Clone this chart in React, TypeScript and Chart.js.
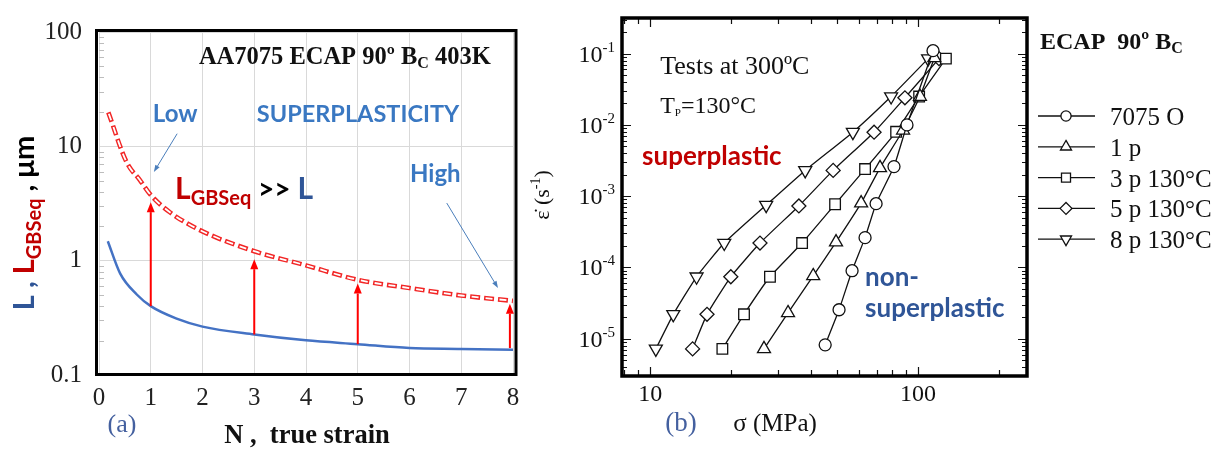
import React, { useEffect, useRef } from 'react';
import { Chart, registerables } from 'chart.js';

Chart.register(...registerables);

const SERIF = '"Liberation Serif", "Times New Roman", serif';
const SANS = 'Lato, "Open Sans", sans-serif';

// ---------------- Panel (a) data ----------------
const strainTicks = [0, 1, 2, 3, 4, 5, 6, 7, 8];
const sizeTicks = [0.1, 1, 10, 100];
const nL = [0.17, 0.41, 0.73, 1.0, 1.5, 2.0, 3.0, 4.0, 5.0, 6.0, 7.0, 8.0];
const sizeL = [1.48, 0.77, 0.506, 0.4, 0.311, 0.265, 0.226, 0.201, 0.186, 0.172, 0.169, 0.166];
const nGBS = [0.18, 0.535, 0.79, 1.0, 1.37, 1.95, 3.0, 4.0, 5.0, 6.0, 7.0, 8.0];
const sizeGBS = [19.8, 7.24, 5.07, 3.75, 2.65, 1.85, 1.21, 0.91, 0.68, 0.576, 0.496, 0.445];
const arrowN = [1, 3, 5, 7.94];
const arrowFrom = [0.4, 0.226, 0.186, 0.172];
const arrowTo = [3.25, 1.03, 0.63, 0.42];

// annotation anchors (N, size)
const titleAPos = [1.93, 52.7];
const lowPos = [1.04, 16.4];
const superplasticityPos = [3.05, 16.4];
const highPos = [6.01, 4.9];
const lgbsPos = [1.47, 3.44];
const lowArrow = [[1.51, 12.9], [1.06, 5.96]];
const highArrow = [[6.72, 3.19], [7.71, 0.576]];

// ---------------- Panel (b) data ----------------
const seriesLabels = ['7075 O', '1 p', '3 p 130°C', '5 p 130°C', '8 p 130°C'];
const stress7075 = [45.0, 50.7, 56.7, 63.4, 69.7, 81.3, 90.9, 113.7];
const rate7075 = [8.2e-6, 2.55e-5, 9.0e-5, 2.62e-4, 7.85e-4, 2.6e-3, 1.0e-2, 1.1e-1];
const stress1p = [26.6, 32.7, 40.6, 49.4, 61.3, 72.1, 87.9, 101.6, 115];
const rate1p = [7.2e-6, 2.3e-5, 7.6e-5, 2.27e-4, 8.0e-4, 2.5e-3, 8.4e-3, 2.5e-2, 8.7e-2];
const stress3p = [18.6, 22.4, 28.0, 36.9, 49.0, 63.4, 82.8, 100.9, 127];
const rate3p = [7.2e-6, 2.2e-5, 7.4e-5, 2.2e-4, 7.7e-4, 2.4e-3, 8.0e-3, 2.5e-2, 8.5e-2];
const stress5p = [14.4, 16.3, 20.0, 25.7, 35.9, 48.2, 68.5, 89.3, 119.7];
const rate5p = [7.2e-6, 2.2e-5, 7.4e-5, 2.2e-4, 7.3e-4, 2.3e-3, 7.9e-3, 2.4e-2, 8.5e-2];
const stress8p = [10.5, 12.2, 14.9, 18.9, 27.1, 37.9, 57.1, 79.3, 109];
const rate8p = [7.2e-6, 2.2e-5, 7.4e-5, 2.2e-4, 7.5e-4, 2.3e-3, 7.9e-3, 2.5e-2, 8.5e-2];
const rateTickExponents = [-1, -2, -3, -4, -5];
const stressTickLabels = [10, 100];

const testsPos = [10.9, 0.0525];
const tpPos = [10.9, 0.0145];
const superPos = [9.33, 2.7e-3];
const nonPos = [63.4, 5.5e-5];
const nonPos2 = [63.4, 2.03e-5];

type Part = { t: string; font: string; color: string; dy?: number };

function drawRich(ctx: CanvasRenderingContext2D, parts: Part[], x: number, y: number, align = 'left') {
  let total = 0;
  for (const p of parts) {
    ctx.font = p.font;
    total += ctx.measureText(p.t).width;
  }
  let cx = align === 'center' ? x - total / 2 : align === 'right' ? x - total : x;
  ctx.textAlign = 'left';
  ctx.textBaseline = 'alphabetic';
  for (const p of parts) {
    ctx.font = p.font;
    ctx.fillStyle = p.color;
    ctx.fillText(p.t, cx, y + (p.dy || 0));
    cx += ctx.measureText(p.t).width;
  }
}

function drawArrow(ctx: CanvasRenderingContext2D, x1: number, y1: number, x2: number, y2: number, color: string, width: number, headLen: number, headW: number) {
  const ang = Math.atan2(y2 - y1, x2 - x1);
  const bx = x2 - headLen * Math.cos(ang);
  const by = y2 - headLen * Math.sin(ang);
  ctx.save();
  ctx.strokeStyle = color;
  ctx.fillStyle = color;
  ctx.lineWidth = width;
  ctx.beginPath();
  ctx.moveTo(x1, y1);
  ctx.lineTo(bx, by);
  ctx.stroke();
  ctx.beginPath();
  ctx.moveTo(x2, y2);
  ctx.lineTo(bx + (headW / 2) * Math.sin(ang), by - (headW / 2) * Math.cos(ang));
  ctx.lineTo(bx - (headW / 2) * Math.sin(ang), by + (headW / 2) * Math.cos(ang));
  ctx.closePath();
  ctx.fill();
  ctx.restore();
}

function drawMarker(ctx: CanvasRenderingContext2D, style: string, x: number, y: number, r: number, rot: number) {
  ctx.save();
  ctx.fillStyle = '#fff';
  ctx.strokeStyle = '#111';
  ctx.lineWidth = 1.3;
  ctx.beginPath();
  if (style === 'circle') {
    ctx.arc(x, y, r, 0, Math.PI * 2);
  } else if (style === 'triangle') {
    let rad = (rot * Math.PI) / 180;
    ctx.moveTo(x + Math.sin(rad) * r, y - Math.cos(rad) * r);
    rad += (2 * Math.PI) / 3;
    ctx.lineTo(x + Math.sin(rad) * r, y - Math.cos(rad) * r);
    rad += (2 * Math.PI) / 3;
    ctx.lineTo(x + Math.sin(rad) * r, y - Math.cos(rad) * r);
    ctx.closePath();
  } else if (style === 'rect') {
    const s = r * Math.SQRT1_2;
    ctx.rect(x - s, y - s, 2 * s, 2 * s);
  } else if (style === 'rectRot') {
    ctx.moveTo(x - r, y);
    ctx.lineTo(x, y + r);
    ctx.lineTo(x + r, y);
    ctx.lineTo(x, y - r);
    ctx.closePath();
  }
  ctx.fill();
  ctx.stroke();
  ctx.restore();
}

const markerDefs = [
  { style: 'circle', r: 6, rot: 0 },
  { style: 'triangle', r: 7.5, rot: 0 },
  { style: 'rect', r: 7.5, rot: 0 },
  { style: 'rectRot', r: 7, rot: 0 },
  { style: 'triangle', r: 7.5, rot: 180 },
];

const panelAPlugin = {
  id: 'panelA',
  afterDatasetsDraw(chart: any) {
    const { ctx, chartArea: a } = chart;
    const x = chart.scales.x;
    const y = chart.scales.y;
    const px = (p: number[]) => [x.getPixelForValue(p[0]), y.getPixelForValue(p[1])];

    // red arrows
    arrowN.forEach((n, i) => {
      const xx = x.getPixelForValue(n);
      drawArrow(ctx, xx, y.getPixelForValue(arrowFrom[i]), xx, y.getPixelForValue(arrowTo[i]), '#ff0000', 2, 10, 8);
    });

    // minor y ticks inside
    ctx.save();
    ctx.strokeStyle = '#bdbdbd';
    ctx.lineWidth = 1;
    for (const e of [-1, 0, 1]) {
      for (let k = 2; k <= 9; k++) {
        const py = Math.round(y.getPixelForValue(k * Math.pow(10, e))) + 0.5;
        ctx.beginPath();
        ctx.moveTo(a.left, py);
        ctx.lineTo(a.left + 5, py);
        ctx.stroke();
      }
    }
    // border
    ctx.strokeStyle = '#000';
    ctx.lineWidth = 3;
    ctx.strokeRect(a.left - 2.5, a.top - 1.5, a.right - a.left + 5.5, a.bottom - a.top + 1);
    ctx.restore();

    // texts
    const [tx, ty] = px(titleAPos);
    drawRich(ctx, [
      { t: 'AA7075 ECAP 90º B', font: `bold 24.5px ${SERIF}`, color: '#111' },
      { t: 'C', font: `bold 16px ${SERIF}`, color: '#111', dy: 4 },
      { t: ' 403K', font: `bold 24.5px ${SERIF}`, color: '#111' },
    ], tx, ty);

    const blue = '#3a78c2';
    const [lx, ly] = px(lowPos);
    drawRich(ctx, [{ t: 'Low', font: `bold 24px ${SANS}`, color: blue }], lx, ly);
    const [sx, sy] = px(superplasticityPos);
    drawRich(ctx, [{ t: 'SUPERPLASTICITY', font: `bold 23.5px ${SANS}`, color: blue }], sx, sy);
    const [hx, hy] = px(highPos);
    drawRich(ctx, [{ t: 'High', font: `bold 24px ${SANS}`, color: blue }], hx, hy);

    const [gx, gy] = px(lgbsPos);
    drawRich(ctx, [
      { t: 'L', font: `bold 30px ${SANS}`, color: '#c00000' },
      { t: 'GBSeq', font: `bold 20px ${SANS}`, color: '#c00000', dy: 6 },
      { t: ' >> ', font: `bold 28px ${SANS}`, color: '#000' },
      { t: 'L', font: `bold 30px ${SANS}`, color: '#2f5597' },
    ], gx, gy);

    const la = lowArrow.map(px);
    drawArrow(ctx, la[0][0], la[0][1], la[1][0], la[1][1], '#4a7ebb', 1, 7, 5);
    const ha = highArrow.map(px);
    drawArrow(ctx, ha[0][0], ha[0][1], ha[1][0], ha[1][1], '#4a7ebb', 1, 7, 5);

    // y-axis title (rotated)
    ctx.save();
    ctx.translate(34, 223);
    ctx.rotate(-Math.PI / 2);
    drawRich(ctx, [
      { t: 'L , ', font: `bold 29px ${SANS}`, color: '#2f5597' },
      { t: 'L', font: `bold 29px ${SANS}`, color: '#c00000' },
      { t: 'GBSeq', font: `bold 20px ${SANS}`, color: '#c00000', dy: 7 },
      { t: ' , μm', font: `bold 29px ${SANS}`, color: '#000' },
    ], 0, 0, 'center');
    ctx.restore();

    // x-axis title and panel tag
    drawRich(ctx, [{ t: 'N ,  true strain', font: `bold 26.5px ${SERIF}`, color: '#111' }], 307, 443, 'center');
    drawRich(ctx, [{ t: '(a)', font: `26px ${SERIF}`, color: '#44609f' }], 122, 432, 'center');
  },
};

const panelBPlugin = {
  id: 'panelB',
  afterDraw(chart: any) {
    const { ctx, chartArea: a } = chart;
    const x = chart.scales.x;
    const y = chart.scales.y;
    const px = (p: number[]) => [x.getPixelForValue(p[0]), y.getPixelForValue(p[1])];

    ctx.save();
    ctx.strokeStyle = '#111';
    ctx.lineWidth = 1.2;
    // x tick marks (top & bottom)
    for (let e = 0; e <= 2; e++) {
      for (let k = 1; k <= 9; k++) {
        const v = k * Math.pow(10, e);
        if (v < x.min || v > x.max) continue;
        const p = Math.round(x.getPixelForValue(v)) + 0.5;
        const len = k === 1 ? 9 : 6;
        ctx.beginPath();
        ctx.moveTo(p, a.top);
        ctx.lineTo(p, a.top + len);
        ctx.moveTo(p, a.bottom);
        ctx.lineTo(p, a.bottom - len);
        ctx.stroke();
      }
    }
    // y tick marks (left & right)
    for (let e = -6; e <= 0; e++) {
      for (let k = 1; k <= 9; k++) {
        const v = k * Math.pow(10, e);
        if (v < y.min || v > y.max) continue;
        const p = Math.round(y.getPixelForValue(v)) + 0.5;
        const len = k === 1 ? 9 : 5;
        ctx.beginPath();
        ctx.moveTo(a.left, p);
        ctx.lineTo(a.left + len, p);
        ctx.moveTo(a.right, p);
        ctx.lineTo(a.right - len, p);
        ctx.stroke();
      }
    }
    // border
    ctx.strokeStyle = '#000';
    ctx.lineWidth = 3.5;
    ctx.strokeRect(a.left, a.top, a.right - a.left, a.bottom - a.top);
    ctx.restore();

    // y tick labels
    rateTickExponents.forEach((e) => {
      const py = y.getPixelForValue(Math.pow(10, e));
      drawRich(ctx, [
        { t: '10', font: `24px ${SERIF}`, color: '#111' },
        { t: String(e), font: `15px ${SERIF}`, color: '#111', dy: -10 },
      ], a.left - 7, py + 8, 'right');
    });
    // x tick labels
    stressTickLabels.forEach((v) => {
      drawRich(ctx, [{ t: String(v), font: `24px ${SERIF}`, color: '#111' }], x.getPixelForValue(v), a.bottom + 25, 'center');
    });

    // axis titles
    drawRich(ctx, [{ t: 'σ (MPa)', font: `25px ${SERIF}`, color: '#111' }], 255, 431, 'center');
    drawRich(ctx, [{ t: '(b)', font: `27px ${SERIF}`, color: '#44609f' }], 161, 431, 'center');
    ctx.save();
    ctx.translate(29, 195);
    ctx.rotate(-Math.PI / 2);
    drawRich(ctx, [
      { t: 'ε̇ (s', font: `22px ${SERIF}`, color: '#111' },
      { t: '-1', font: `14px ${SERIF}`, color: '#111', dy: -9 },
      { t: ')', font: `22px ${SERIF}`, color: '#111' },
    ], 0, 0, 'center');
    ctx.restore();

    // annotations
    const [t1x, t1y] = px(testsPos);
    drawRich(ctx, [{ t: 'Tests at 300ºC', font: `26px ${SERIF}`, color: '#111' }], t1x, t1y);
    const [t2x, t2y] = px(tpPos);
    drawRich(ctx, [
      { t: 'T', font: `24px ${SERIF}`, color: '#111' },
      { t: 'P', font: `11px ${SERIF}`, color: '#111', dy: 3 },
      { t: '=130°C', font: `24px ${SERIF}`, color: '#111' },
    ], t2x, t2y);
    const [s1x, s1y] = px(superPos);
    drawRich(ctx, [{ t: 'superplastic', font: `bold 26px ${SANS}`, color: '#c00000' }], s1x, s1y);
    const [n1x, n1y] = px(nonPos);
    drawRich(ctx, [{ t: 'non-', font: `bold 26px ${SANS}`, color: '#2f5597' }], n1x, n1y);
    const [n2x, n2y] = px(nonPos2);
    drawRich(ctx, [{ t: 'superplastic', font: `bold 26px ${SANS}`, color: '#2f5597' }], n2x, n2y);

    // legend
    drawRich(ctx, [
      { t: 'ECAP  90º B', font: `bold 24px ${SERIF}`, color: '#111' },
      { t: 'C', font: `bold 16px ${SERIF}`, color: '#111', dy: 4 },
    ], a.right + 13, 49);
    chart.data.datasets.forEach((ds: any, i: number) => {
      const ly = 116 + i * 30.8;
      ctx.save();
      ctx.strokeStyle = '#111';
      ctx.lineWidth = 1.3;
      ctx.beginPath();
      ctx.moveTo(a.right + 11, ly);
      ctx.lineTo(a.right + 68, ly);
      ctx.stroke();
      ctx.restore();
      const m = markerDefs[i];
      drawMarker(ctx, m.style, a.right + 39, ly, m.r * 0.85, m.rot);
      drawRich(ctx, [{ t: ds.label, font: `25px ${SERIF}`, color: '#111' }], a.right + 83, ly + 9);
    });
  },
};

function pairs(xs: number[], ys: number[]) {
  return xs.map((v, i) => ({ x: v, y: ys[i] }));
}

export default function App() {
  const refA = useRef<HTMLCanvasElement>(null);
  const refB = useRef<HTMLCanvasElement>(null);

  useEffect(() => {
    const tickFontA = { family: SERIF, size: 25 };
    const chartA = new Chart(refA.current as HTMLCanvasElement, {
      type: 'line',
      data: {
        datasets: [
          {
            label: 'L',
            data: pairs(nL, sizeL),
            borderColor: '#4472c4',
            borderWidth: 2.5,
            pointRadius: 0,
            cubicInterpolationMode: 'monotone',
            order: 3,
          },
          {
            label: 'LGBSeq',
            data: pairs(nGBS, sizeGBS),
            borderColor: '#f22626',
            borderWidth: 4.6,
            borderDash: [10, 4],
            pointRadius: 0,
            cubicInterpolationMode: 'monotone',
            order: 2,
          },
          {
            label: 'LGBSeq (inner)',
            data: pairs(nGBS, sizeGBS),
            borderColor: '#ffffff',
            borderWidth: 1.8,
            borderDash: [7, 7],
            borderDashOffset: -1.5,
            pointRadius: 0,
            cubicInterpolationMode: 'monotone',
            order: 1,
          },
        ],
      } as any,
      options: {
        animation: false,
        responsive: false,
        layout: { padding: { top: 19, right: 17, left: 0, bottom: 0 } },
        plugins: { legend: { display: false }, tooltip: { enabled: false } },
        scales: {
          x: {
            type: 'linear',
            min: 0,
            max: 8,
            afterBuildTicks: (s: any) => {
              s.ticks = strainTicks.map((v) => ({ value: v }));
            },
            afterFit: (s: any) => {
              s.height = 74;
            },
            ticks: { font: tickFontA, color: '#222', padding: 8, maxRotation: 0, autoSkip: false },
            grid: { color: '#d9d9d9', drawTicks: false },
            border: { display: false },
          },
          y: {
            type: 'logarithmic',
            min: 0.1,
            max: 100,
            afterBuildTicks: (s: any) => {
              s.ticks = sizeTicks.map((v) => ({ value: v }));
            },
            afterFit: (s: any) => {
              s.width = 99;
            },
            ticks: { font: tickFontA, color: '#222', padding: 17, autoSkip: false, callback: (v: any) => String(v) },
            grid: { color: '#d9d9d9', drawTicks: false },
            border: { display: false },
          },
        },
      } as any,
      plugins: [panelAPlugin],
    });

    const seriesData = [
      pairs(stress7075, rate7075),
      pairs(stress1p, rate1p),
      pairs(stress3p, rate3p),
      pairs(stress5p, rate5p),
      pairs(stress8p, rate8p),
    ];
    const chartB = new Chart(refB.current as HTMLCanvasElement, {
      type: 'line',
      data: {
        datasets: seriesData.map((d, i) => ({
          label: seriesLabels[i],
          data: d,
          borderColor: '#111',
          borderWidth: 1.3,
          tension: 0.15,
          pointStyle: markerDefs[i].style,
          pointRadius: markerDefs[i].r,
          pointRotation: markerDefs[i].rot,
          pointBackgroundColor: '#fff',
          pointBorderColor: '#111',
          pointBorderWidth: 1.3,
        })),
      } as any,
      options: {
        animation: false,
        responsive: false,
        layout: { padding: { top: 18, right: 190, left: 0, bottom: 0 } },
        plugins: { legend: { display: false }, tooltip: { enabled: false } },
        scales: {
          x: {
            type: 'logarithmic',
            min: 7.85,
            max: 255,
            afterFit: (s: any) => {
              s.height = 73;
            },
            ticks: { display: false },
            grid: { display: false },
            border: { display: false },
          },
          y: {
            type: 'logarithmic',
            min: 3e-6,
            max: 0.316,
            afterFit: (s: any) => {
              s.width = 102;
            },
            ticks: { display: false },
            grid: { display: false },
            border: { display: false },
          },
        },
      } as any,
      plugins: [panelBPlugin],
    });

    return () => {
      chartA.destroy();
      chartB.destroy();
    };
  }, []);

  return (
    <div style={{ position: 'fixed', left: 0, top: 0, width: 1217, height: 449, background: '#fff' }}>
      <canvas ref={refA} width={530} height={449} style={{ position: 'absolute', left: 0, top: 0, width: 530, height: 449 }} />
      <canvas ref={refB} width={697} height={449} style={{ position: 'absolute', left: 520, top: 0, width: 697, height: 449 }} />
    </div>
  );
}
